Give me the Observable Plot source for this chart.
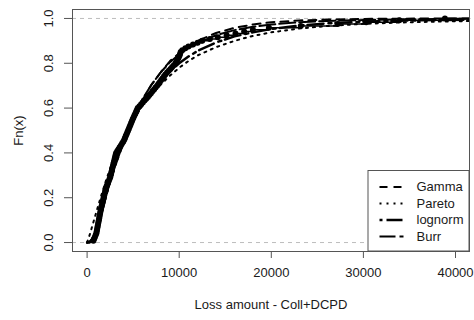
<!DOCTYPE html>
<html>
<head>
<meta charset="utf-8">
<script src="https://cdn.jsdelivr.net/npm/d3@7"></script>
<script src="https://cdn.jsdelivr.net/npm/@observablehq/plot@0.6"></script>
<style>
  body { margin: 0; background: #fff; }
  #chart svg { display: block; }
</style>
</head>
<body>
<div id="chart"></div>
<script>
// Observed loss amounts (Coll+DCPD)
const losses = [
  683, 767, 850, 933, 1008, 1045, 1083, 1121, 1159, 1197,
  1235, 1273, 1311, 1348, 1386, 1424, 1462, 1500, 1550, 1600,
  1650, 1700, 1750, 1800, 1850, 1900, 1950, 2000, 2050, 2100,
  2183, 2267, 2350, 2433, 2510, 2559, 2608, 2658, 2707, 2756,
  2805, 2855, 2904, 2953, 3002, 3052, 3101, 3150, 3279, 3408,
  3537, 3665, 3794, 3923, 4033, 4117, 4200, 4283, 4367, 4450,
  4533, 4617, 4700, 4783, 4867, 4950, 5042, 5133, 5225, 5317,
  5408, 5500, 5683, 5867, 6050, 6233, 6417, 6600, 6767, 6933,
  7100, 7267, 7433, 7600, 7750, 7900, 8050, 8200, 8350, 8500,
  8683, 8867, 9050, 9233, 9417, 9600, 9711, 9822, 9933, 10027,
  10093, 10160, 10333, 10667, 11000, 11500, 12000, 12500, 13333, 14190,
  15150, 16110, 17050, 18000, 19740, 23200, 27200, 30300, 33900, 38850
];

// Fitted distribution CDFs evaluated on a common grid of loss amounts
const gridX = [0, 250, 500, 750, 1000, 1500, 2000, 2500, 3000, 4000, 5000, 6000, 7000, 8000,
  9000, 10000, 11000, 12000, 14000, 16000, 18000, 20000, 23000, 26000, 30000, 34000, 38000, 42000];
const gammaCdf = [0, 0.003, 0.015, 0.035, 0.06, 0.125, 0.2, 0.27, 0.335, 0.45, 0.55, 0.635, 0.705, 0.76,
  0.81, 0.845, 0.875, 0.9, 0.935, 0.958, 0.973, 0.983, 0.991, 0.995, 0.998, 0.999, 1, 1];
const paretoCdf = [0, 0.03, 0.065, 0.1, 0.135, 0.205, 0.27, 0.33, 0.385, 0.475, 0.55, 0.61, 0.66, 0.705,
  0.745, 0.78, 0.81, 0.835, 0.872, 0.9, 0.922, 0.938, 0.955, 0.966, 0.976, 0.982, 0.986, 0.989];
const lognormCdf = [0, 0, 0.005, 0.02, 0.045, 0.12, 0.2, 0.275, 0.34, 0.455, 0.545, 0.615, 0.675, 0.725,
  0.765, 0.8, 0.83, 0.855, 0.893, 0.92, 0.938, 0.953, 0.968, 0.978, 0.986, 0.99, 0.993, 0.995];
const burrCdf = [0, 0.002, 0.012, 0.03, 0.055, 0.13, 0.21, 0.285, 0.35, 0.465, 0.56, 0.64, 0.705, 0.76,
  0.805, 0.84, 0.868, 0.89, 0.925, 0.948, 0.963, 0.973, 0.983, 0.989, 0.993, 0.996, 0.998, 0.999];

const seriesNames = ["Gamma", "Pareto", "lognorm", "Burr"];
const xTicks = [0, 10000, 20000, 30000, 40000];
const yTicks = [0, 0.2, 0.4, 0.6, 0.8, 1.0];

// line styles for each fitted distribution
const styles = {
  Gamma:   {dash: "8,6", width: 2},
  Pareto:  {dash: "2,5", width: 2},
  lognorm: {dash: "3,4,16,5", width: 2.5},
  Burr:    {dash: "16,4", width: 2}
};
const cdfs = {Gamma: gammaCdf, Pareto: paretoCdf, lognorm: lognormCdf, Burr: burrCdf};

const xDomain = [-1585, 41520];
const yDomain = [-0.04, 1.04];

// empirical CDF
const sorted = losses.slice().sort(d3.ascending);
const n = sorted.length;
const ecdf = sorted.map((v, i) => ({x: v, F: (i + 1) / n}));
const ecdfStep = ecdf.concat([{x: xDomain[1], F: 1}]);

const fitted = seriesNames.flatMap(name =>
  gridX.map((x, i) => ({name, x, F: cdfs[name][i]})));

const font = "'Liberation Sans', Arial, Helvetica, sans-serif";
const ink = "#1a1a1a";
const axisInk = "#555";

const chart = Plot.plot({
  width: 474,
  height: 320,
  marginLeft: 72,
  marginRight: 5,
  marginTop: 9,
  marginBottom: 69,
  style: {fontFamily: font, fontSize: "13px", color: ink, background: "#fff"},
  x: {domain: xDomain},
  y: {domain: yDomain},
  marks: [
    Plot.ruleY([0, 1], {stroke: "#bdbdbd", strokeDasharray: "4,4", strokeWidth: 1}),
    Plot.line(ecdfStep, {x: "x", y: "F", curve: "step-after", stroke: "#000", strokeWidth: 1.5}),
    Plot.dot(ecdf, {x: "x", y: "F", r: 3, fill: "#000", stroke: "none"}),
    ...seriesNames.map(name => Plot.line(fitted.filter(d => d.name === name), {
      x: "x", y: "F", stroke: "#000",
      strokeWidth: styles[name].width,
      strokeDasharray: styles[name].dash,
      clip: true
    })),
    Plot.frame({stroke: axisInk, strokeWidth: 1}),
    Plot.axisX(xTicks, {tickSize: 7, tickPadding: 9, tickFormat: d3.format("d"), stroke: axisInk, label: null, fill: ink}),
    Plot.axisY(yTicks, {tickSize: 8, tickFormat: () => "", stroke: axisInk, label: null}),
    Plot.text(yTicks, {y: d => d, text: d3.format(".1f"), frameAnchor: "left", dx: -24, rotate: -90, textAnchor: "middle", fill: ink}),
    Plot.text(["Fn(x)"], {frameAnchor: "left", dx: -54, rotate: -90, textAnchor: "middle", fill: ink}),
    Plot.text(["Loss amount - Coll+DCPD"], {frameAnchor: "bottom", dy: 57, textAnchor: "middle", fill: ink})
  ]
});

document.getElementById("chart").appendChild(chart);

// legend box in the lower-right corner of the plotting region
{
  const xs = chart.scale("x"), ys = chart.scale("y");
  const boxW = 101, boxH = 80.5;
  const boxLeft = xs.range[1] - boxW, boxTop = ys.range[0] - boxH;
  const g = d3.select(chart).append("g")
    .attr("font-family", font).attr("font-size", 13).attr("text-anchor", "start");
  g.append("rect")
    .attr("x", boxLeft).attr("y", boxTop).attr("width", boxW).attr("height", boxH)
    .attr("fill", "#fff").attr("stroke", axisInk).attr("stroke-width", 1);
  seriesNames.forEach((name, i) => {
    const cy = boxTop + 16.4 + i * 16.5;
    g.append("line")
      .attr("x1", boxLeft + 11.5).attr("x2", boxLeft + 35.5)
      .attr("y1", cy).attr("y2", cy)
      .attr("stroke", "#000")
      .attr("stroke-width", styles[name].width)
      .attr("stroke-dasharray", styles[name].dash);
    g.append("text")
      .attr("x", boxLeft + 48.5).attr("y", cy).attr("dy", "0.35em")
      .attr("fill", ink).text(name);
  });
}
</script>
</body>
</html>
